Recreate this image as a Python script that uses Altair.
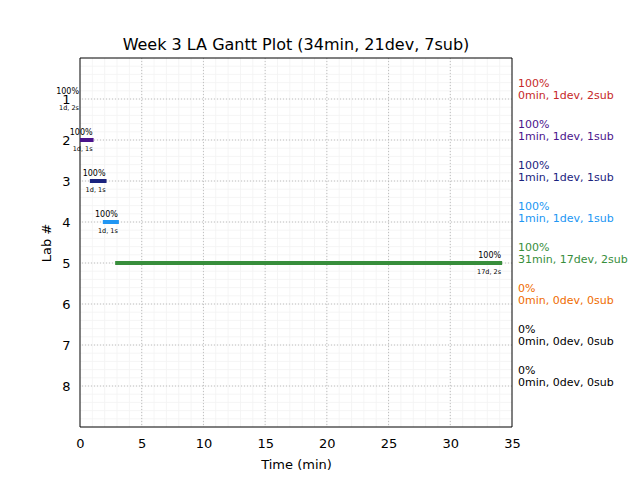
import altair as alt
import pandas as pd
import numpy as np

labs = [1, 2, 3, 4, 5, 6, 7, 8]
bar_start = [0.0, 0.0, 0.8, 1.85, 2.85]
bar_end = [0.0, 1.1, 2.15, 3.15, 34.2]
bar_labels = ["1d, 2s", "1d, 1s", "1d, 1s", "1d, 1s", "17d, 2s"]
pct = ["100%", "100%", "100%", "100%", "100%", "0%", "0%", "0%"]
minutes = [0, 1, 1, 1, 31, 0, 0, 0]
devs = [1, 1, 1, 1, 17, 0, 0, 0]
subs = [2, 1, 1, 1, 2, 0, 0, 0]
colors = ["#c62828", "#4a148c", "#1a237e", "#2196f3", "#388e3c", "#ef6c00", "#000000", "#000000"]
x_ticks = [0, 5, 10, 15, 20, 25, 30, 35]

n_bars = len(bar_start)
bars = pd.DataFrame({
    "lab": labs[:n_bars], "start": bar_start, "end": bar_end,
    "pct": pct[:n_bars], "info": bar_labels, "color": colors[:n_bars],
})
ann = pd.DataFrame({
    "lab": labs, "pct": pct,
    "summary": [f"{m}min, {d}dev, {s}sub" for m, d, s in zip(minutes, devs, subs)],
    "color": colors,
})

xs = alt.Scale(domain=[0, 35], nice=False, zero=False)
ys = alt.Scale(domain=[0, 9], reverse=True, nice=False, zero=False)

minor_x = pd.DataFrame({"v": list(range(1, 35))})
minor_y = pd.DataFrame({"v": [round(v, 1) for v in np.arange(0.2, 8.9, 0.2)]})
major_x = pd.DataFrame({"v": x_ticks[1:-1]})
major_y = pd.DataFrame({"v": labs})

x_axis = alt.Axis(values=x_ticks, title="Time (min)", grid=False, ticks=False,
                  labelFontSize=13, titleFontSize=13, titleFontWeight="normal",
                  labelPadding=10, titlePadding=8, labelColor="black",
                  titleColor="black", domain=False, labelFlush=False)
y_axis = alt.Axis(values=labs, title="Lab #", grid=False, ticks=False,
                  labelFontSize=13, titleFontSize=13, titleFontWeight="normal",
                  labelPadding=10, titlePadding=8, labelColor="black",
                  titleColor="black", domain=False, labelFlush=False)

grid_x = alt.Chart(minor_x).mark_rule(color="#f3f3f3", strokeWidth=0.8).encode(
    x=alt.X("v:Q", scale=xs, axis=x_axis))
grid_y = alt.Chart(minor_y).mark_rule(color="#f3f3f3", strokeWidth=0.8).encode(
    y=alt.Y("v:Q", scale=ys, axis=y_axis))
mgrid_x = alt.Chart(major_x).mark_rule(color="#b0b0b0", strokeWidth=0.8, strokeDash=[1, 2]).encode(
    x=alt.X("v:Q", scale=xs))
mgrid_y = alt.Chart(major_y).mark_rule(color="#b0b0b0", strokeWidth=0.8, strokeDash=[1, 2]).encode(
    y=alt.Y("v:Q", scale=ys))

frame = alt.Chart(pd.DataFrame({"a": [0]})).mark_rect(
    fill=None, stroke="black", strokeWidth=1).encode(
    x=alt.value(0), x2=alt.value(432), y=alt.value(0), y2=alt.value(369))

bar_layer = alt.Chart(bars).mark_rule(strokeWidth=4).encode(
    x=alt.X("start:Q", scale=xs),
    x2="end:Q",
    y=alt.Y("lab:Q", scale=ys),
    color=alt.Color("color:N", scale=None),
)

pct_text = alt.Chart(bars).mark_text(align="right", baseline="middle", dy=-7, dx=-1,
                                     fontSize=8, color="black").encode(
    x=alt.X("end:Q", scale=xs), y=alt.Y("lab:Q", scale=ys), text="pct:N")
info_text = alt.Chart(bars).mark_text(align="right", baseline="middle", dy=9, dx=-1,
                                      fontSize=6.5, color="black").encode(
    x=alt.X("end:Q", scale=xs), y=alt.Y("lab:Q", scale=ys), text="info:N")

ann1 = alt.Chart(ann).mark_text(align="left", baseline="middle", dy=-15, fontSize=11).encode(
    x=alt.value(438), y=alt.Y("lab:Q", scale=ys), text="pct:N",
    color=alt.Color("color:N", scale=None))
ann2 = alt.Chart(ann).mark_text(align="left", baseline="middle", dy=-3, fontSize=11).encode(
    x=alt.value(438), y=alt.Y("lab:Q", scale=ys), text="summary:N",
    color=alt.Color("color:N", scale=None))

chart = alt.layer(grid_x, grid_y, mgrid_x, mgrid_y, frame, bar_layer, pct_text, info_text, ann1, ann2).properties(
    width=432, height=369,
    title=alt.TitleParams("Week 3 LA Gantt Plot (34min, 21dev, 7sub)", fontSize=16,
                          fontWeight="normal", color="black", offset=5),
    autosize=alt.AutoSizeParams(type="none"),
    padding={"left": 72, "top": 50, "right": 120, "bottom": 45},
).configure(font="DejaVu Sans").configure_view(stroke=None)

chart.save("out.html", embed_options={"renderer": "svg", "actions": False})
